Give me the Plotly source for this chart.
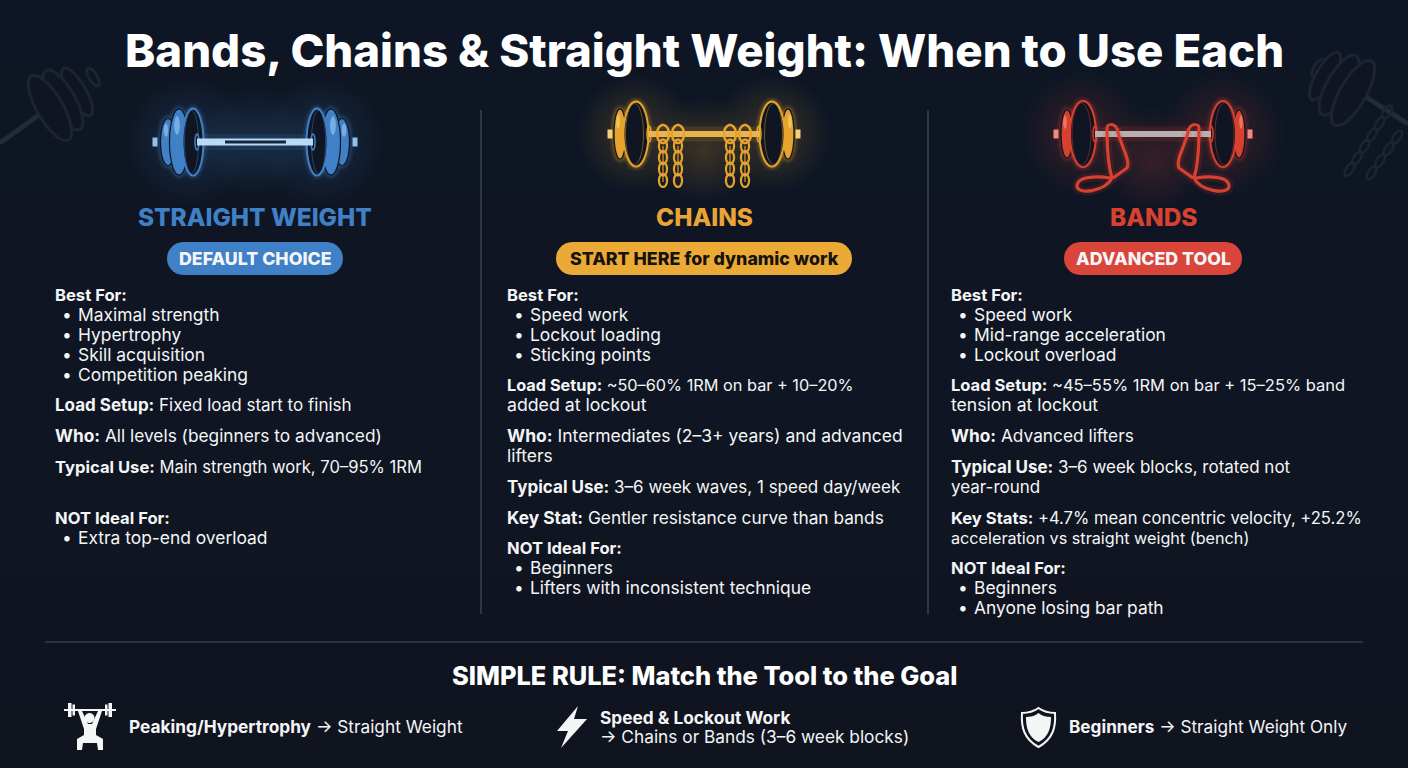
import numpy as np
import plotly.graph_objects as go

FONT = "Inter"
BG = "#0f1522"
WHITE = "#f4f5f7"

title = "Bands, Chains & Straight Weight: When to Use Each"
tools = ["STRAIGHT WEIGHT", "CHAINS", "BANDS"]
pills = ["DEFAULT CHOICE", "START HERE for dynamic work", "ADVANCED TOOL"]
rule_title = "SIMPLE RULE: Match the Tool to the Goal"

col1 = ["<b>Best For:</b>", "• Maximal strength", "• Hypertrophy", "• Skill acquisition", "• Competition peaking",
        "<b>Load Setup:</b> Fixed load start to finish",
        "<b>Who:</b> All levels (beginners to advanced)",
        "<b>Typical Use:</b> Main strength work, 70–95% 1RM",
        "<b>NOT Ideal For:</b>", "• Extra top-end overload"]
col2 = ["<b>Best For:</b>", "• Speed work", "• Lockout loading", "• Sticking points",
        "<b>Load Setup:</b> ~50–60% 1RM on bar + 10–20%", "added at lockout",
        "<b>Who:</b> Intermediates (2–3+ years) and advanced", "lifters",
        "<b>Typical Use:</b> 3–6 week waves, 1 speed day/week",
        "<b>Key Stat:</b> Gentler resistance curve than bands",
        "<b>NOT Ideal For:</b>", "• Beginners", "• Lifters with inconsistent technique"]
col3 = ["<b>Best For:</b>", "• Speed work", "• Mid-range acceleration", "• Lockout overload",
        "<b>Load Setup:</b> ~45–55% 1RM on bar + 15–25% band", "tension at lockout",
        "<b>Who:</b> Advanced lifters",
        "<b>Typical Use:</b> 3–6 week blocks, rotated not", "year-round",
        "<b>Key Stats:</b> +4.7% mean concentric velocity, +25.2%", "acceleration vs straight weight (bench)",
        "<b>NOT Ideal For:</b>", "• Beginners", "• Anyone losing bar path"]
bottom = ["<b>Peaking/Hypertrophy</b> → Straight Weight",
          "<b>Speed & Lockout Work</b>", "→ Chains or Bands (3–6 week blocks)",
          "<b>Beginners</b> → Straight Weight Only"]

col1_y = [295, 315, 335, 355, 375, 405, 436, 467, 518, 538]
col2_y = [295, 315, 335, 355, 385, 405, 436, 456, 487, 518, 548, 568, 588]
col3_y = [295, 315, 335, 355, 385, 405, 436, 467, 487, 518, 538, 568, 588, 608]

# Inter runs narrower than the original face on some lines, sizes set line by line
col1_size = [16.6, 17.4, 17.4, 17.4, 17.4, 17, 17.3, 16.6, 16.6, 17.4]
col2_size = [16.6, 17.4, 17.4, 17.4, 16.3, 17.7, 17.5, 17.4, 17, 17.3, 16.6, 17.4, 17.4]
col3_size = [16.6, 17.4, 17.4, 17.4, 16.5, 17.6, 17.3, 17, 17, 16.6, 16.2, 16.6, 17.4, 17.4]

shapes = []
notes = []


def ell(cx, cy, rx, ry, angle=0):
    t = np.linspace(0, 2 * np.pi, 49)
    a = np.radians(angle)
    xs = cx + rx * np.cos(t) * np.cos(a) - ry * np.sin(t) * np.sin(a)
    ys = cy + rx * np.cos(t) * np.sin(a) + ry * np.sin(t) * np.cos(a)
    return "M" + " L".join(f"{x:.1f},{y:.1f}" for x, y in zip(xs, ys)) + " Z"


def pill_path(x0, x1, y0, y1):
    r = (y1 - y0) / 2
    t = np.linspace(-np.pi / 2, np.pi / 2, 15)
    pts = [(x1 - r + r * np.cos(a), y0 + r + r * np.sin(a)) for a in t]
    pts += [(x0 + r - r * np.cos(a), y0 + r - r * np.sin(a)) for a in t]
    return "M" + " L".join(f"{x:.1f},{y:.1f}" for x, y in pts) + " Z"


def poly(pts):
    return "M" + " L".join(f"{x},{y}" for x, y in pts) + " Z"


def add(path, fill=None, line=None, width=0, opacity=1):
    shapes.append(dict(type="path", path=path, fillcolor=fill or "rgba(0,0,0,0)",
                       line=dict(color=line or "rgba(0,0,0,0)", width=width), opacity=opacity))


def seg(x0, y0, x1, y1, color, width, opacity=1):
    shapes.append(dict(type="line", x0=x0, y0=y0, x1=x1, y1=y1,
                       line=dict(color=color, width=width), opacity=opacity))


def box(x0, y0, x1, y1, fill):
    shapes.append(dict(type="rect", x0=x0, y0=y0, x1=x1, y1=y1, fillcolor=fill, line=dict(width=0)))


def text(x, y, s, size, color=WHITE, anchor="left", weight=None):
    # annotations sit 2px inside their box
    if anchor == "left":
        x = x - 2
    font = dict(family=FONT, size=size, color=color)
    if weight:
        font["weight"] = weight
    notes.append(dict(x=x, y=y, text=s, showarrow=False, xanchor=anchor, yanchor="middle", font=font))


def glow_plate(cx, cy, rx, ry, color):
    add(ell(cx, cy, rx, ry), None, color, 9, 0.10)
    add(ell(cx, cy, rx, ry), None, color, 5, 0.16)


def barbell(cx, y, bar_dx, bar_h, plates, cap, hub, main, light, bar_color):
    for s in (-1, 1):
        for dx, rx, ry in plates:
            glow_plate(cx + s * dx, y, rx, ry, main)
    seg(cx - bar_dx, y, cx + bar_dx, y, main, bar_h + 9, 0.14)
    for s in (-1, 1):
        box(cx + s * cap[0] - cap[1], y - cap[2], cx + s * cap[0] + cap[1], y + cap[2], light)
        n = len(plates)
        for i, (dx, rx, ry) in enumerate(reversed(plates)):
            px = cx + s * dx
            if i == n - 1:
                add(ell(px, y, rx, ry), BG, main, 2)
                add(ell(px + s * 1.5, y, rx - 3.5, ry - 2), None, main, 1, 0.45)
            else:
                add(ell(px, y, rx, ry), main, BG, 1.2)
                add(ell(px + s * 2, y - ry * 0.5, rx * 0.3, ry * 0.28), light, None, 0, 0.7)
        add(ell(cx + s * hub, y, 2, 8), None, main, 1.5)
    box(cx - bar_dx, y - bar_h / 2, cx + bar_dx, y + bar_h / 2, bar_color)


# faint barbells in the top corners
ghost = "#1c2432"
seg(0, 143, 46, 110, "#232a38", 5)
for cx, cy, r1, r2 in [(93, 77, 4, 10), (77, 92, 9, 27), (63, 100, 12, 34), (50, 108, 13, 37)]:
    add(ell(cx, cy, r1, r2, -30), BG, ghost, 3)
seg(1366, 97, 1408, 124, "#232a38", 5)
for cx, cy, r1, r2 in [(1318, 68, 4, 10), (1325, 76, 9, 27), (1339, 85, 12, 34), (1353, 93, 13, 37)]:
    add(ell(cx, cy, r1, r2, 30), BG, ghost, 3)
for i in range(6):
    add(ell(1387 - i * 7.5, 112 + i * 11.5, 3.5, 7.5, 33), None, ghost, 2.5)
for i in range(4):
    add(ell(1397 - i * 8.5, 137 + i * 12, 3.5, 7.5, 33), None, ghost, 2.5)

# straight weight icon
BLUE = "#3f80c6"
barbell(255, 142, 58, 7, [(62, 10.5, 33.5), (76, 9.5, 33), (87, 7.5, 23.5)],
        (100, 2.5, 4.5), 58, BLUE, "#8fc0ee", "#b9daf5")
box(225, 140.6, 286, 143.4, "#12263f")

# chains icon
GOLD = "#e6a32e"
barbell(704, 134, 56, 6, [(68, 12.5, 32.5), (84, 6, 25)],
        (94, 2.5, 4.5), 55, GOLD, "#f7cf75", "#e9b44d")
for dx, bottom_y in [(-41, 192), (-26, 184), (26, 184), (41, 192)]:
    x = 704 + dx
    add(ell(x, 134, 6, 9), None, GOLD, 2.5)
    yy = 146
    while yy < bottom_y - 3:
        add(ell(x, yy, 4, 6.5), None, GOLD, 2.2)
        yy += 11.5
    seg(x, 146, x, bottom_y - 10, GOLD, 1.6, 0.7)

# bands icon
RED = "#d8402f"
barbell(1153, 134, 58, 6, [(70, 13, 33), (86, 6, 24)],
        (97, 2.5, 4.5), 58, RED, "#f28b7c", "#b9aeb0")
for s in (-1, 1):
    def rx(d):
        return 1153 + s * d
    ribbon1 = (f"M{rx(46)},128 C{rx(46)},145 {rx(45)},165 {rx(41)},178 "
               f"C{rx(48)},192 {rx(76)},195 {rx(76)},186 C{rx(76)},176 {rx(55)},176 {rx(43)},178")
    ribbon2 = f"M{rx(36)},128 C{rx(33)},145 {rx(22)},160 {rx(26)},168 L{rx(40)},178"
    add(ribbon1, None, RED, 9, 0.12)
    add(ribbon2, None, RED, 9, 0.12)
    add(ribbon1, None, RED, 3.2)
    add(ribbon2, None, RED, 3.2)
    add(f"M{rx(46)},128 C{rx(46)},124 {rx(40)},123 {rx(36)},128", None, RED, 3)

# dividers
seg(481, 110, 481, 614, "#3b414c", 1.5)
seg(928, 110, 928, 614, "#3b414c", 1.5)
seg(45, 642, 1363, 642, "#353b47", 1.5)

# pills
add(pill_path(167, 343, 242, 275), BLUE)
add(pill_path(556, 852, 242, 275), "#eba935")
add(pill_path(1064, 1242, 242, 275), "#d9453a")

# lifter icon
seg(64, 710, 116, 710, WHITE, 2.2)
box(68, 703, 71.5, 717, WHITE)
box(72.5, 704.5, 75, 715.5, WHITE)
box(108.5, 703, 112, 717, WHITE)
box(105, 704.5, 107.5, 715.5, WHITE)
add(ell(89.5, 718, 5, 5), WHITE)
add(poly([(78, 711), (82, 711), (88, 724), (92, 724), (98, 711), (102, 711), (96, 729), (96, 735),
           (103, 739), (103, 750), (98, 750), (97, 743), (83, 743), (82, 750), (77, 750), (77, 739),
           (84, 735), (84, 729)]), WHITE)

# bolt icon
add(poly([(578, 706), (557, 731), (568, 731), (561, 748), (587, 719), (574, 719)]), WHITE)

# shield icon
shield = "M1038.5,708 C1044,712 1050,713 1055,713 C1056,727 1053,739 1038.5,747 C1024,739 1021,727 1022,713 C1027,713 1033,712 1038.5,708 Z"
inner = "M1038.5,713 C1042,716 1047,717 1051,717 C1051,727 1049,737 1038.5,742 C1028,737 1026,727 1026,717 C1030,717 1035,716 1038.5,713 Z"
add(shield, None, WHITE, 2)
add(inner, WHITE)

# text
text(704, 50, title, 45.6, "#ffffff", "center", 800)
for cx, name, color in zip([255, 704, 1153], tools, [BLUE, "#e8a535", "#d8402f"]):
    text(cx, 217, name, 24.4, color, "center", 800)
for cx, name, color in zip([255, 704, 1153], pills, [WHITE, "#16130c", WHITE]):
    text(cx, 258, name, 17.8, color, "center", 800)

for x0, lines, ys, sizes in [(55, col1, col1_y, col1_size), (507, col2, col2_y, col2_size),
                             (951, col3, col3_y, col3_size)]:
    for s, y, size in zip(lines, ys, sizes):
        # bigger sizes round one pixel lower
        if size > 17:
            y = y - 0.7
        if s.startswith("• "):
            text(x0 + 12, y, "•", size, WHITE, "center")
            text(x0 + 23, y, s[2:], size)
        else:
            text(x0, y, s, size)

text(704, 675, rule_title, 25.4, "#ffffff", "center", 800)
text(129, 726.5, bottom[0], 17.3)
text(600, 717, bottom[1], 17.3)
text(600, 736.5, bottom[2], 17.3)
text(1069, 726.5, bottom[3], 17.2)

fig = go.Figure()

# slight shift of the background from navy at the top to near black at the bottom
fig.add_trace(go.Heatmap(
    x=[0, 1408], y=[0, 768], z=[[0, 0], [1, 1]], zsmooth="best", showscale=False, hoverinfo="skip",
    colorscale=[[0, "#0e1625"], [1, "#10141f"]]))

# soft glow behind each icon
glow_x = [190, 320, 255, 636, 772, 704, 1083, 1223, 1153]
glow_y = [142, 142, 142, 134, 134, 150, 134, 134, 160]
glow_size = [130, 130, 110, 120, 120, 105, 125, 125, 105]
glow_rgb = ["63,128,198"] * 3 + ["230,163,46"] * 3 + ["216,64,47"] * 3
# in plotly the gradient colour is the centre of a radial fill
fig.add_trace(go.Scatter(
    x=glow_x, y=glow_y, mode="markers", hoverinfo="skip",
    marker=dict(size=glow_size, color=[f"rgba({c},0)" for c in glow_rgb],
                line=dict(width=0),
                gradient=dict(type="radial", color=[f"rgba({c},0.30)" for c in glow_rgb]))))

fig.update_layout(
    width=1408, height=768, showlegend=False,
    margin=dict(l=0, r=0, t=0, b=0), autosize=False,
    paper_bgcolor=BG, plot_bgcolor=BG,
    xaxis=dict(range=[0, 1408], visible=False, fixedrange=True),
    yaxis=dict(range=[768, 0], visible=False, fixedrange=True),
    shapes=shapes, annotations=notes,
)

fig.write_html("out.html", config=dict(displayModeBar=False),
               post_script="document.body.style.margin='0';document.body.style.overflow='hidden';")
